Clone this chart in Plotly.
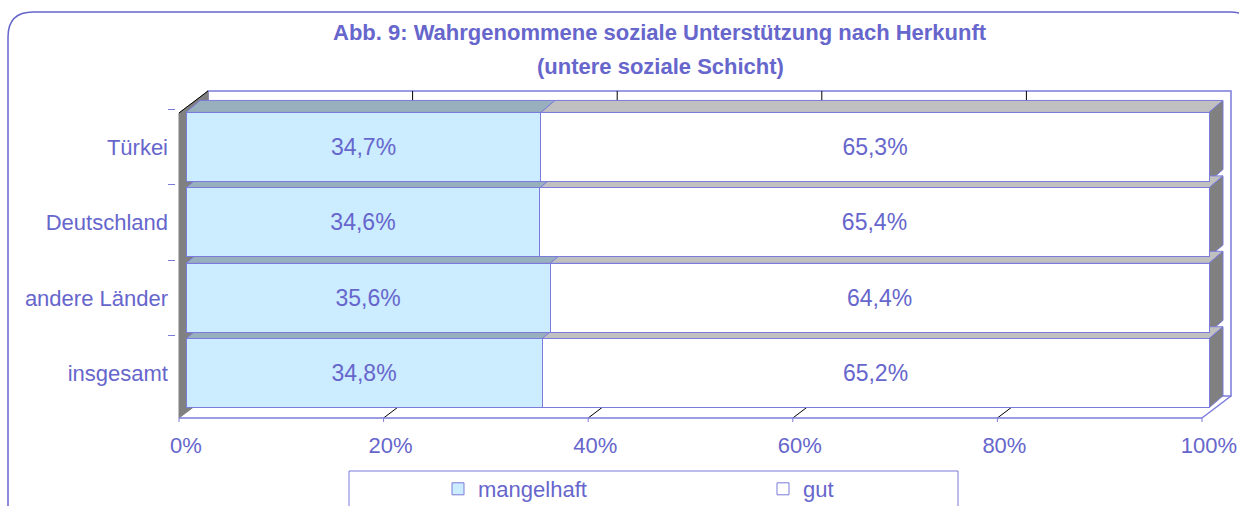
import plotly.graph_objects as go

# ---------------- data ----------------
categories = ["Türkei", "Deutschland", "andere Länder", "insgesamt"]
mangelhaft = [34.7, 34.6, 35.6, 34.8]
gut = [65.3, 65.4, 64.4, 65.2]
series_names = ["mangelhaft", "gut"]
tick_vals = [0, 20, 40, 60, 80, 100]
tick_text = ["0%", "20%", "40%", "60%", "80%", "100%"]
title_line1 = "Abb. 9: Wahrgenommene soziale Unterstützung nach Herkunft"
title_line2 = "(untere soziale Schicht)"

# ---------------- style / layout constants ----------------
FONT = "Liberation Sans, Arial, sans-serif"
TXT = "#6666CC"
EDGE = "#7B7BDB"
FILL_M = "#CCECFF"
FILL_G = "#FFFFFF"
TOP_M = "#98AFBD"
TOP_G = "#C0C0C0"
SIDE = "#808080"

W, H = 1239, 506
PL, PR, PT, PB = 176, 1236, 88, 422          # plot area in pixels
X0_PX, X100_PX = 186, 1209                    # value axis scale (pixels)
ROW0_PX, ROW_STEP = 147, 75.43                # category centre / spacing (pixels)
K = (X100_PX - X0_PX) / 100.0

def dxv(p):
    return p / K

def dyv(p):
    return p / ROW_STEP

def paper_x(p):
    return (p - PL) / (PR - PL)

def paper_y(p):
    return (PB - p) / (PB - PT)

x_range = [(PL - X0_PX) / K, (PR - X0_PX) / K]
y_range = [(PB - ROW0_PX) / ROW_STEP, (PT - ROW0_PX) / ROW_STEP]

BAR_W = 0.916
BDX, BDY = dxv(14), dyv(12)                    # bar depth
WDX, WDY = dxv(29), dyv(22)                    # wall depth
FX0 = dxv(179 - X0_PX)                         # front plane origin
FT = (113 - ROW0_PX) / ROW_STEP                # front plane top
FB = (418 - ROW0_PX) / ROW_STEP                # front plane floor


def fmt(v):
    return f"{v:.1f}%".replace(".", ",")


def poly(pts):
    return "M " + " L ".join(f"{x:.5f},{y:.5f}" for x, y in pts) + " Z"


fig = go.Figure()
for name, vals, fill in [(series_names[0], mangelhaft, FILL_M), (series_names[1], gut, FILL_G)]:
    fig.add_trace(go.Bar(
        name=name, y=categories, x=vals, orientation="h",
        marker=dict(color=fill, line=dict(color=EDGE, width=1)),
        width=BAR_W,
        text=[fmt(v) for v in vals], textposition="inside", insidetextanchor="middle",
        textfont=dict(family=FONT, size=23, color=TXT),
        hoverinfo="skip",
    ))

shapes = []
# back wall
bw_x0, bw_x1 = FX0 + WDX, FX0 + 100 + WDX
bw_y0, bw_y1 = FT - WDY, FB - WDY
shapes.append(dict(type="rect", xref="x", yref="y", x0=bw_x0, x1=bw_x1, y0=bw_y0, y1=bw_y1,
                   fillcolor="white", line=dict(color=EDGE, width=1.5), layer="below"))
for t in tick_vals[1:-1]:
    shapes.append(dict(type="line", xref="x", yref="y", x0=bw_x0 + t, x1=bw_x0 + t,
                       y0=bw_y0, y1=bw_y1, line=dict(color="black", width=1), layer="below"))
# left wall
shapes.append(dict(type="path", xref="x", yref="y",
                   path=poly([(FX0, FB), (FX0, FT), (FX0 + WDX, FT - WDY), (FX0 + WDX, FB - WDY)]),
                   fillcolor=SIDE, line=dict(color=SIDE, width=1), layer="below"))
shapes.append(dict(type="line", xref="x", yref="y", x0=FX0, y0=FT, x1=FX0 + WDX, y1=FT - WDY,
                   line=dict(color="black", width=1), layer="below"))
# floor grid + edges
for t in tick_vals[1:-1]:
    shapes.append(dict(type="line", xref="x", yref="y", x0=FX0 + t, y0=FB, x1=FX0 + t + WDX, y1=FB - WDY,
                       line=dict(color="black", width=1), layer="below"))
shapes.append(dict(type="line", xref="x", yref="y", x0=FX0 + 100, y0=FB, x1=FX0 + 100 + WDX, y1=FB - WDY,
                   line=dict(color=EDGE, width=1.5), layer="below"))
shapes.append(dict(type="line", xref="x", yref="y", x0=FX0, y0=FB, x1=FX0 + 100, y1=FB,
                   line=dict(color=EDGE, width=1.5), layer="below"))
for t in tick_vals:
    shapes.append(dict(type="line", xref="x", yref="y", x0=FX0 + t, y0=FB, x1=FX0 + t, y1=FB + dyv(5),
                       line=dict(color=EDGE, width=1), layer="below"))

# 3D faces of the bars
h = BAR_W / 2
for i in range(len(categories)):
    y_top = i - h
    y_bot = i + h
    x_start = 0.0
    for vals, top_col in [(mangelhaft, TOP_M), (gut, TOP_G)]:
        x_end = x_start + vals[i]
        shapes.append(dict(type="path", xref="x", yref="y",
                           path=poly([(x_start, y_top), (x_end, y_top),
                                      (x_end + BDX, y_top - BDY), (x_start + BDX, y_top - BDY)]),
                           fillcolor=top_col, line=dict(color=EDGE, width=1), layer="below"))
        x_start = x_end
    shapes.append(dict(type="path", xref="x", yref="y",
                       path=poly([(x_start, y_top), (x_start + BDX, y_top - BDY),
                                  (x_start + BDX, y_bot - BDY), (x_start, y_bot)]),
                       fillcolor=SIDE, line=dict(color=EDGE, width=1), layer="below"))

# outer rounded frame (paper coordinates); its right edge lies outside the picture
fx0, fx1 = paper_x(8), paper_x(1255)
fy0, fy1 = paper_y(12), paper_y(530)
rx = 25 / (PR - PL)
ry = 25 / (PB - PT)
frame = (f"M {fx0:.5f},{fy1:.5f} L {fx0:.5f},{fy0 - ry:.5f} Q {fx0:.5f},{fy0:.5f} {fx0 + rx:.5f},{fy0:.5f} "
         f"L {fx1 - rx:.5f},{fy0:.5f} Q {fx1:.5f},{fy0:.5f} {fx1:.5f},{fy0 - ry:.5f} L {fx1:.5f},{fy1:.5f}")
shapes.append(dict(type="path", xref="paper", yref="paper", path=frame,
                   line=dict(color=TXT, width=1.5)))
# legend box
shapes.append(dict(type="rect", xref="paper", yref="paper",
                   x0=paper_x(349), x1=paper_x(958), y0=paper_y(471), y1=paper_y(540),
                   line=dict(color=EDGE, width=1), fillcolor="rgba(0,0,0,0)"))

annotations = [
    dict(text=f"<b>{title_line1}</b>", xref="paper", yref="paper", x=paper_x(660), y=paper_y(33),
         xanchor="center", yanchor="middle", showarrow=False,
         font=dict(family=FONT, size=22, color=TXT)),
    dict(text=f"<b>{title_line2}</b>", xref="paper", yref="paper", x=paper_x(660), y=paper_y(66),
         xanchor="center", yanchor="middle", showarrow=False,
         font=dict(family=FONT, size=22, color=TXT)),
]

fig.update_layout(
    width=W, height=H,
    margin=dict(l=PL, r=W - PR, t=PT, b=H - PB, pad=0, autoexpand=False),
    barmode="stack",
    paper_bgcolor="white", plot_bgcolor="rgba(0,0,0,0)",
    font=dict(family=FONT, size=22, color=TXT),
    shapes=shapes, annotations=annotations,
    showlegend=True,
    legend=dict(orientation="h", x=paper_x(438), xanchor="left", y=paper_y(489), yanchor="middle",
                font=dict(family=FONT, size=22, color=TXT), bgcolor="rgba(0,0,0,0)",
                borderwidth=0, entrywidth=280, traceorder="normal"),
    xaxis=dict(range=x_range, tickvals=tick_vals, ticktext=tick_text, showgrid=False, zeroline=False,
               showline=False, ticks="", ticklabelstandoff=8,
               tickfont=dict(family=FONT, size=22, color=TXT)),
    yaxis=dict(type="category", categoryorder="array", categoryarray=categories, range=y_range,
               showgrid=False, zeroline=False, showline=False, ticks="outside", tickson="boundaries",
               ticklen=7, tickcolor=EDGE, ticklabelstandoff=7,
               tickfont=dict(family=FONT, size=22, color=TXT)),
    hovermode=False,
)

fig.write_html("out.html", config={"displayModeBar": False},
               post_script="document.body.style.margin='0';document.body.style.padding='0';")
